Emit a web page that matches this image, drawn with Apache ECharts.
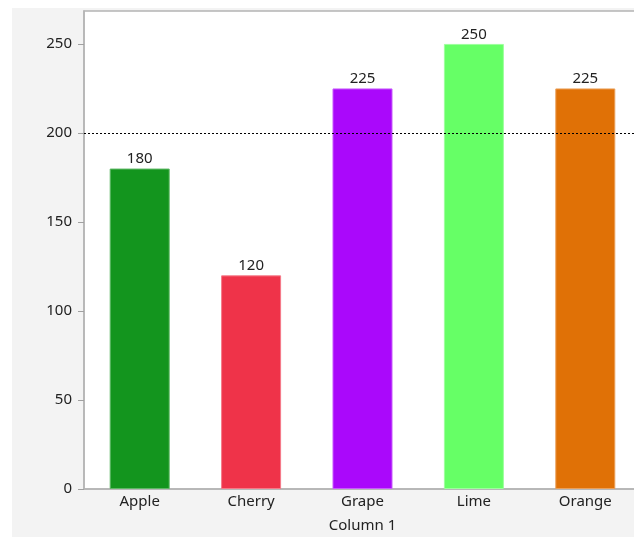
<!DOCTYPE html>
<html>
<head>
<meta charset="utf-8">
<script src="https://cdn.jsdelivr.net/npm/echarts@6/dist/echarts.min.js"></script>
<style>
  html, body { margin: 0; padding: 0; background: #ffffff; }
  #chart { width: 634px; height: 537px; }
</style>
</head>
<body>
<div id="chart"></div>
<script>
// Fruit totals by category
const categories = ['Apple', 'Cherry', 'Grape', 'Lime', 'Orange'];
const values = [180, 120, 225, 250, 225];
const barColors = ['#13951e', '#ef3349', '#aa08fb', '#66ff66', '#e07106'];
const barEdges = ['#5fb866', '#f57a88', '#c85cfc', '#9dff9d', '#eaa05a'];
const yTicks = [0, 50, 100, 150, 200, 250];
const referenceLevel = 200;
const axisTitle = 'Column 1';

const font = '"Noto Sans", "Open Sans", sans-serif';
const chart = echarts.init(document.getElementById('chart'), null, { renderer: 'canvas' });

chart.setOption({
  animation: false,
  backgroundColor: '#ffffff',
  graphic: [
    { type: 'rect', shape: { x: 12, y: 8, width: 640, height: 540 }, style: { fill: '#f3f3f3' }, z: -10 },
    { type: 'rect', shape: { x: 84, y: 11, width: 600, height: 478 }, style: { fill: '#ffffff', stroke: '#b4b4b4', lineWidth: 1.5 }, z: -9 }
  ],
  grid: { left: 84, top: 11, width: 557, height: 478, containLabel: false, outerBoundsMode: 'none' },
  xAxis: {
    type: 'category',
    data: categories,
    name: axisTitle,
    nameLocation: 'middle',
    nameGap: 29,
    nameTextStyle: { color: '#222', fontFamily: font, fontSize: 15 },
    axisLine: { lineStyle: { color: '#b4b4b4', width: 1.5 } },
    axisTick: { show: false },
    axisLabel: { color: '#222', fontFamily: font, fontSize: 15, margin: 5 }
  },
  yAxis: {
    type: 'value',
    min: 0,
    max: 268.5,
    interval: 50,
    splitLine: { show: false },
    axisLine: { show: true, lineStyle: { color: '#b4b4b4', width: 1.5 } },
    axisTick: { show: true, length: 6, customValues: yTicks, lineStyle: { color: '#a0a0a0' } },
    axisLabel: { customValues: yTicks, color: '#222', fontFamily: font, fontSize: 15, margin: 12 }
  },
  series: [{
    type: 'bar',
    barWidth: 60,
    data: values.map((v, i) => ({
      value: v,
      itemStyle: { color: barColors[i], borderColor: barEdges[i], borderWidth: 1 }
    })),
    label: {
      show: true,
      position: 'top',
      distance: 2,
      color: '#222',
      fontFamily: font,
      fontSize: 15
    },
    markLine: {
      silent: true,
      symbol: 'none',
      label: { show: false },
      lineStyle: { color: '#000000', type: [2, 2], width: 1.2 },
      data: [{ yAxis: referenceLevel }]
    }
  }]
});
</script>
</body>
</html>
